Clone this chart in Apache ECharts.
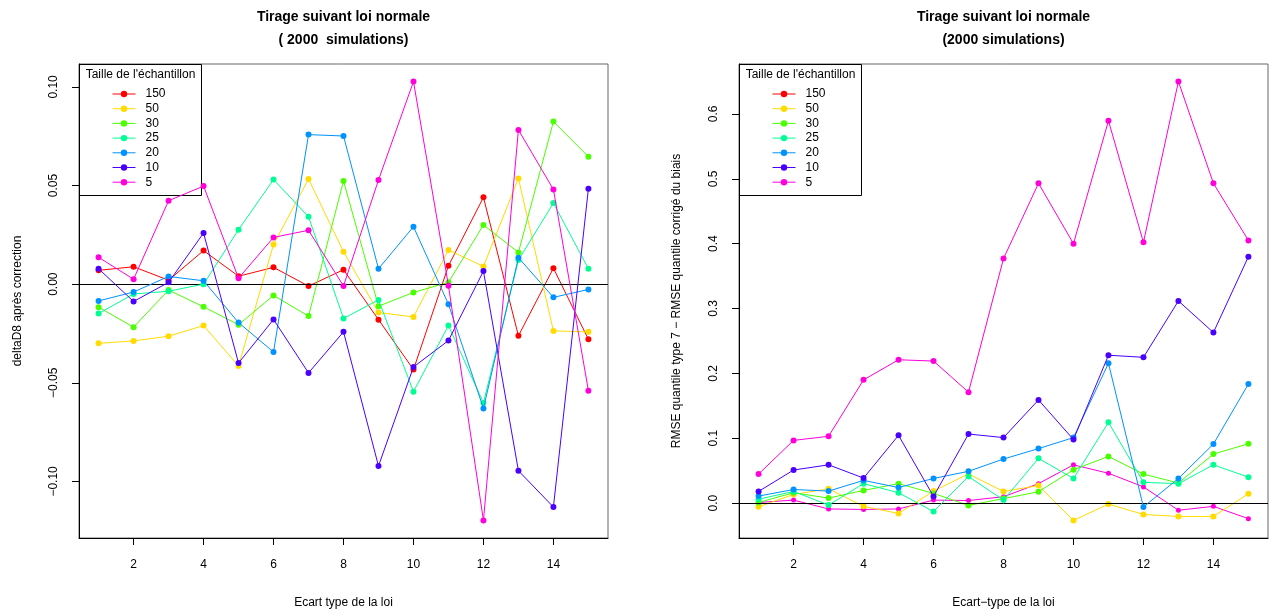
<!DOCTYPE html>
<html>
<head>
<meta charset="utf-8">
<script src="https://cdn.jsdelivr.net/npm/echarts@6/dist/echarts.min.js"></script>
<style>
html,body{margin:0;padding:0;background:#fff;}
#chart{width:1271px;height:615px;}
</style>
</head>
<body>
<div id="chart"></div>
<script>
// ---- data ----
const xValues = [1,2,3,4,5,6,7,8,9,10,11,12,13,14,15];
const seriesNames = ['150','50','30','25','20','10','5'];
const seriesColors = ['#FF0000','#FFDB00','#49FF00','#00FF92','#0092FF','#4900FF','#FF00DB'];

// left chart: deltaD8 après correction
const left150 = [0.007, 0.0088, 0.002, 0.017, 0.004, 0.0085, -0.001, 0.0073, -0.018, -0.0433, 0.0093, 0.044, -0.0262, 0.0081, -0.028];
const left50  = [-0.030, -0.0288, -0.0264, -0.021, -0.0415, 0.0201, 0.0533, 0.0164, -0.0144, -0.0166, 0.0173, 0.009, 0.0536, -0.0237, -0.0242];
const left30  = [-0.0117, -0.0218, -0.003, -0.0115, -0.0206, -0.0057, -0.0162, 0.0523, -0.0112, -0.0042, 0.0009, 0.030, 0.0161, 0.0824, 0.0646];
const left25  = [-0.0149, -0.005, -0.0036, 0.000, 0.0276, 0.053, 0.0342, -0.0174, -0.008, -0.0545, -0.021, -0.0602, 0.0122, 0.0411, 0.0078];
const left20  = [-0.0085, -0.004, 0.0039, 0.0017, -0.0195, -0.0344, 0.0758, 0.0751, 0.0078, 0.0291, -0.0102, -0.063, 0.0134, -0.0067, -0.0027];
const left10  = [0.0078, -0.0088, 0.0009, 0.0259, -0.040, -0.0179, -0.045, -0.0242, -0.0922, -0.042, -0.0286, 0.0066, -0.0946, -0.113, 0.0484];
const left5   = [0.0136, 0.0025, 0.0423, 0.0497, 0.003, 0.0237, 0.0273, -0.0009, 0.0528, 0.1027, -0.0008, -0.1198, 0.0782, 0.048, -0.054];

// right chart: RMSE quantile type 7 - RMSE quantile corrigé du biais
const right150 = [0.001, 0.0046, -0.009, -0.0098, -0.009, 0.0046, 0.004, 0.0098, 0.030, 0.059, 0.046, 0.025, -0.011, -0.005, -0.024];
const right50  = [-0.0057, 0.0134, 0.022, -0.005, -0.016, 0.0185, 0.045, 0.018, 0.027, -0.0267, -0.0015, -0.0175, -0.0206, -0.0206, 0.0144];
const right30  = [0.001, 0.016, 0.0077, 0.0196, 0.030, 0.015, -0.0036, 0.007, 0.0175, 0.0514, 0.072, 0.0447, 0.031, 0.0756, 0.0915];
const right25  = [0.006, 0.018, -0.003, 0.030, 0.016, -0.013, 0.041, 0.0046, 0.069, 0.038, 0.1245, 0.032, 0.030, 0.059, 0.040];
const right20  = [0.0108, 0.021, 0.0185, 0.035, 0.024, 0.038, 0.049, 0.068, 0.084, 0.101, 0.2155, -0.006, 0.038, 0.091, 0.1836];
const right10  = [0.018, 0.051, 0.059, 0.0386, 0.1045, 0.0103, 0.1065, 0.101, 0.159, 0.098, 0.228, 0.2248, 0.3117, 0.263, 0.380];
const right5   = [0.0448, 0.0967, 0.103, 0.190, 0.221, 0.219, 0.171, 0.377, 0.493, 0.400, 0.5895, 0.402, 0.650, 0.493, 0.405];

const xTicks = [2,4,6,8,10,12,14];
const leftYTicks = [-0.10,-0.05,0.00,0.05,0.10];
const rightYTicks = [0.0,0.1,0.2,0.3,0.4,0.5,0.6];

const titleLine1 = 'Tirage suivant loi normale';
const leftTitleLine2 = '( 2000  simulations)';
const rightTitleLine2 = '(2000 simulations)';
const leftXName = 'Ecart type de la loi';
const rightXName = 'Ecart\u2212type de la loi';
const leftYName = 'deltaD8 après correction';
const rightYName = 'RMSE quantile type 7 \u2212 RMSE quantile corrigé du biais';
const legendTitle = "Taille de l'échantillon";

// ---- chart ----
const FONT = '"Liberation Sans", Arial, Helvetica, sans-serif';
const leftData = [left150,left50,left30,left25,left20,left10,left5];
const rightData = [right150,right50,right30,right25,right20,right10,right5];
// in the right panel the "150" series is drawn in magenta
const rightColors = ['#FF00DB'].concat(seriesColors.slice(1));

function fmtMinus(v, dec){ const s = Math.abs(v) < 1e-9 ? (0).toFixed(dec) : v.toFixed(dec); return s.replace('-', '\u2212'); }

function mkX(gi){
  return {
    type:'value', gridIndex:gi, min:0.44, max:15.56,
    splitLine:{show:false},
    axisLine:{show:true, onZero:false, lineStyle:{color:'#000', width:1}},
    axisTick:{show:true, length:7, customValues:xTicks, lineStyle:{color:'#000'}},
    axisLabel:{show:true, customValues:xTicks, margin:21, color:'#000', fontSize:12, fontFamily:FONT}
  };
}
function mkY(gi, min, max, ticks, dec){
  return {
    type:'value', gridIndex:gi, min:min, max:max,
    splitLine:{show:false},
    axisLine:{show:true, onZero:false, lineStyle:{color:'#000', width:1}},
    axisTick:{show:true, length:7, customValues:ticks, lineStyle:{color:'#000'}},
    axisLabel:{show:true, customValues:ticks, rotate:90, margin:19, color:'#000', fontSize:12, fontFamily:FONT,
      formatter:function(v){ return fmtMinus(v, dec); }}
  };
}

const series = [];
function addSeries(gi, datasets, colors, small){
  datasets.forEach(function(arr, k){
    const s = {
      name: seriesNames[k], type:'line', xAxisIndex:gi, yAxisIndex:gi,
      data: xValues.map(function(x,i){ return [x, arr[i]]; }),
      symbol:'circle', symbolSize: (small && k===0) ? 5 : 6, showSymbol:true,
      itemStyle:{color:colors[k]},
      lineStyle:{color:colors[k], width:1},
      emphasis:{disabled:true}, animation:false, z:2+k
    };
    if(k===0){
      s.markLine = {silent:true, symbol:'none', label:{show:false},
        lineStyle:{color:'#000', type:'solid', width:1},
        data:[{yAxis:0}]};
    }
    series.push(s);
  });
}
addSeries(0, leftData, seriesColors, false);
addSeries(1, rightData, rightColors, true);

function legendData(){
  return seriesNames.map(function(n,k){
    return {name:n, itemStyle:{color:seriesColors[k]}, lineStyle:{color:seriesColors[k], width:1}};
  });
}
function mkLegend(left){
  return {
    orient:'vertical', left:left, top:87, padding:0, z:100, zlevel:0,
    itemWidth:23, itemHeight:8, itemGap:0.7,
    selectedMode:false,
    textStyle:{fontSize:12, fontFamily:FONT, color:'#000', lineHeight:14, padding:[0,0,0,5]},
    data:legendData()
  };
}

function txt(x,y,text,opts){
  return Object.assign({type:'text', x:x, y:y, silent:true,
    style:Object.assign({text:text, fill:'#000', font:'12px '+FONT, textAlign:'center', textVerticalAlign:'middle'}, opts||{})});
}

const graphics = [
  // titles
  txt(343.5,17,titleLine1,{font:'bold 14px '+FONT}),
  txt(343.5,40,leftTitleLine2,{font:'bold 14px '+FONT}),
  txt(1003.5,17,titleLine1,{font:'bold 14px '+FONT}),
  txt(1003.5,40,rightTitleLine2,{font:'bold 14px '+FONT}),
  // axis names
  txt(343.5,603,leftXName),
  txt(1003.5,603,rightXName),
  Object.assign(txt(18,301,leftYName),{rotation:Math.PI/2}),
  Object.assign(txt(677,301,rightYName),{rotation:Math.PI/2}),
  // legend boxes
  {type:'rect', shape:{x:79.5,y:64.5,width:122,height:131}, style:{fill:'#fff', stroke:'#000', lineWidth:1}, silent:true},
  {type:'rect', shape:{x:739.5,y:64.5,width:122,height:131}, style:{fill:'#fff', stroke:'#000', lineWidth:1}, silent:true},
  txt(140.5,75,legendTitle),
  txt(800.5,75,legendTitle)
];

const option = {
  animation:false,
  backgroundColor:'#fff',
  textStyle:{fontFamily:FONT},
  grid:[
    {left:79, top:64, width:529, height:474, show:true, borderColor:'#666', borderWidth:1, backgroundColor:'transparent'},
    {left:739, top:64, width:529, height:474, show:true, borderColor:'#666', borderWidth:1, backgroundColor:'transparent'}
  ],
  xAxis:[mkX(0), mkX(1)],
  yAxis:[mkY(0,-0.1287,0.1116,leftYTicks,2), mkY(1,-0.0538,0.677,rightYTicks,1)],
  legend:[mkLegend(112), mkLegend(772)],
  graphic:{z:50, elements:graphics},
  series:series
};

const chart = echarts.init(document.getElementById('chart'), null, {renderer:'canvas'});
chart.setOption(option);
</script>
</body>
</html>
